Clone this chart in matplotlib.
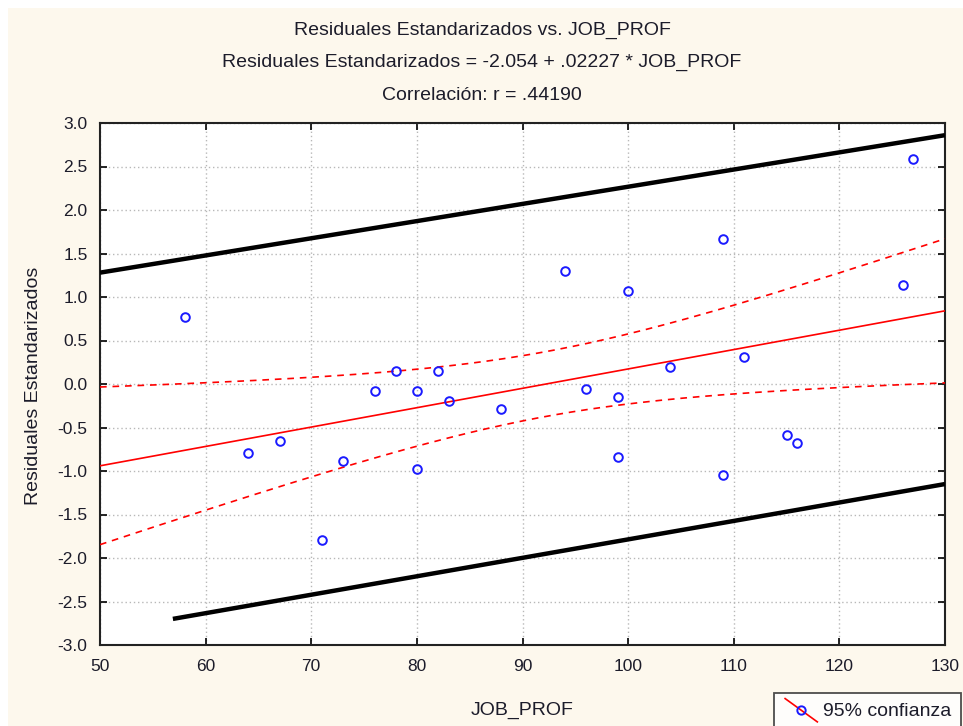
import numpy as np
import matplotlib
matplotlib.use("Agg")
from matplotlib import pyplot as plt
from matplotlib.lines import Line2D
from matplotlib.patches import Rectangle
from matplotlib.legend_handler import HandlerBase

plt.rcParams["font.family"] = ["Liberation Sans", "DejaVu Sans"]

# observed cases
job_prof = [58, 64, 67, 71, 73, 76, 78, 80, 80, 82, 83, 88, 94, 96,
            99, 99, 100, 104, 109, 109, 111, 115, 116, 126, 127]
std_resid = [0.77, -0.79, -0.655, -1.79, -0.885, -0.08, 0.15, -0.08, -0.977,
             0.15, -0.195, -0.29, 1.30, -0.057, -0.15, -0.84, 1.07, 0.195,
             1.67, -1.046, 0.31, -0.586, -0.68, 1.14, 2.59]

# fitted line as reported
intercept = -2.054
slope = 0.02227
r_value = 0.44190

# outer limit lines (end points)
upper_x = [50, 130]
upper_y = [1.28, 2.86]
lower_x = [56.9, 130]
lower_y = [-2.70, -1.15]

BG = "#fdf8ed"
TXT = "#1c1c2a"

x = np.array(job_prof, dtype=float)
y = np.array(std_resid, dtype=float)
n = len(x)

# 95% confidence band for the mean around the fitted line
xs = np.linspace(50, 130, 200)
fit = intercept + slope * xs
resid = y - (intercept + slope * x)
s = np.sqrt(np.sum(resid ** 2) / (n - 2))
sxx = np.sum((x - x.mean()) ** 2)
t_crit = 2.0687
half = t_crit * s * np.sqrt(1 / n + (xs - x.mean()) ** 2 / sxx)

fig = plt.figure(figsize=(9.63, 7.26), dpi=100, facecolor="white")
bg = Rectangle((8 / 963, 0), 1, 1 - 8 / 726, transform=fig.transFigure,
               facecolor=BG, edgecolor="none", zorder=-10)
fig.patches.append(bg)

ax = fig.add_axes([100 / 963, 1 - 645 / 726, 845 / 963, 522 / 726])
ax.set_facecolor("white")

ax.plot(upper_x, upper_y, color="black", lw=3.2, solid_capstyle="butt", zorder=3)
ax.plot(lower_x, lower_y, color="black", lw=3.2, solid_capstyle="butt", zorder=3)
ax.plot(xs, fit, color="red", lw=1.2, zorder=3)
ax.plot(xs, fit + half, color="red", lw=1.2, dashes=(4, 3.5), zorder=3)
ax.plot(xs, fit - half, color="red", lw=1.2, dashes=(4, 3.5), zorder=3)
ax.plot(x, y, "o", ms=6.2, mfc="none", mec="#1a1aff", mew=1.4, zorder=4)

ax.set_xlim(50, 130)
ax.set_ylim(-3, 3)
ax.set_xticks(np.arange(50, 131, 10))
ax.set_yticks(np.arange(-3, 3.01, 0.5))
ax.set_yticklabels([f"{v:.1f}" for v in np.arange(-3, 3.01, 0.5)])
ax.grid(True, color="#b8b8b8", linestyle=(0, (1, 2)), lw=1.0)
ax.tick_params(direction="in", length=5, width=1.2, top=True, right=True,
               labelsize=12.5, colors="black", labelcolor=TXT)
ax.tick_params(axis="x", pad=10)
ax.tick_params(axis="y", pad=9)
for sp in ax.spines.values():
    sp.set_linewidth(1.5)
    sp.set_color("#222222")

ax.set_xlabel("JOB_PROF", fontsize=14, color=TXT, labelpad=20)
fig.text(34 / 963, 1 - 386 / 726, "Residuales Estandarizados", rotation=90,
         ha="center", va="center", fontsize=14, color=TXT)

cx = 482 / 963
fig.text(cx, 1 - 30 / 726, "Residuales Estandarizados vs. JOB_PROF",
         ha="center", va="center", fontsize=14, color=TXT)
fig.text(cx, 1 - 62 / 726,
         f"Residuales Estandarizados = {intercept:.3f} + {slope:.5f} * JOB_PROF".replace("0.", "."),
         ha="center", va="center", fontsize=14, color=TXT)
fig.text(cx, 1 - 95 / 726,
         f"Correlación: r = {r_value:.5f}".replace("0.", "."),
         ha="center", va="center", fontsize=14, color=TXT)


class DiagHandler(HandlerBase):
    def create_artists(self, legend, orig, xd, yd, width, height, fontsize, trans):
        ln = Line2D([xd + 1, xd + width - 1], [yd + height + 3, yd - 4],
                    color="red", lw=1.2, transform=trans)
        mk = Line2D([xd + width / 2], [yd + height / 2 - 0.5], marker="o", ms=6,
                    mfc="none", mec="#1a1aff", mew=1.4, transform=trans)
        return [ln, mk]


handle = Line2D([], [], color="red")
leg = fig.legend([handle], ["95% confianza"], loc="upper left",
                 bbox_to_anchor=(774 / 963, 1 - 693 / 726),
                 handler_map={Line2D: DiagHandler()}, fontsize=14,
                 frameon=True, fancybox=False, borderaxespad=0,
                 handlelength=1.8, handletextpad=0.2, borderpad=0.5)
leg.get_frame().set_edgecolor("#222222")
leg.get_frame().set_linewidth(1.3)
leg.get_frame().set_facecolor("white")
for t in leg.get_texts():
    t.set_color(TXT)

fig.savefig("out.png", dpi=100, facecolor=fig.get_facecolor())
